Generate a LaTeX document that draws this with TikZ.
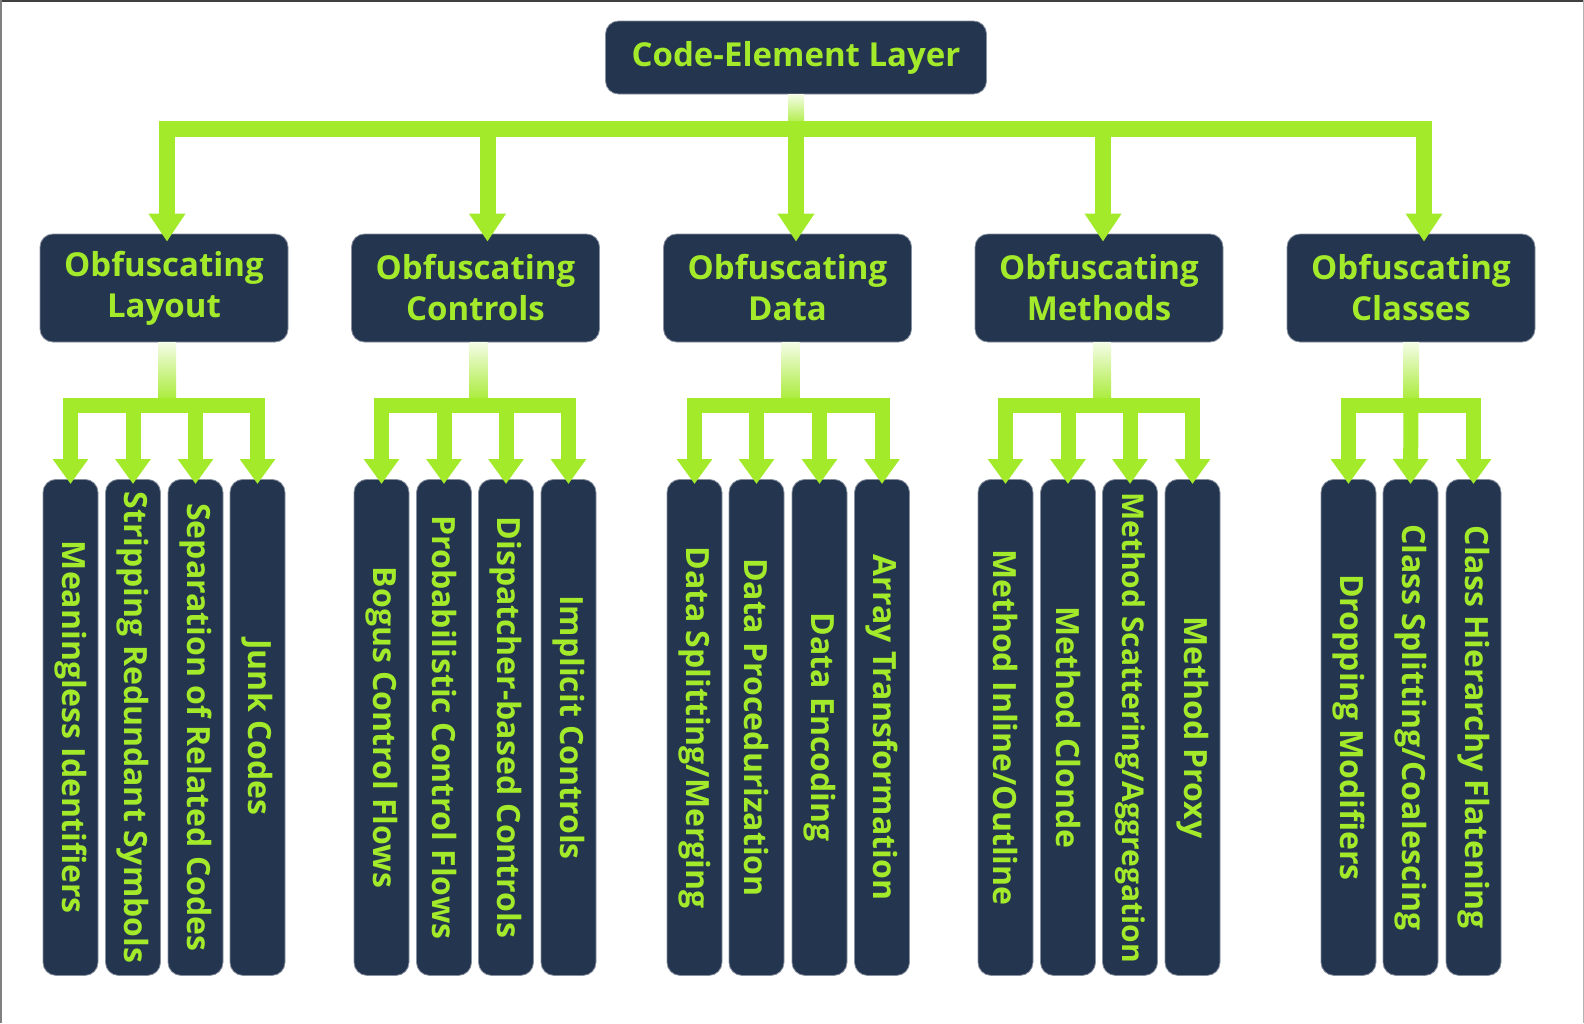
\documentclass[tikz,border=0pt]{standalone}
\usepackage{fontspec}
\setmainfont{Open Sans}
\usetikzlibrary{arrows.meta}
\definecolor{navy}{HTML}{24354F}
\definecolor{lime}{HTML}{A3EA2A}
\tikzset{
  box/.style={draw=navy!55!white, line width=0.8pt, fill=navy, text=lime,
    rounded corners=13pt, inner sep=0pt, align=center,
    font=\bfseries\fontsize{33}{41}\selectfont},
  layer/.style={box, minimum width=381pt, minimum height=73pt},
  group/.style={box, minimum width=248pt, minimum height=108pt},
  leaf/.style={box, minimum width=55pt, minimum height=496pt, anchor=north,
    font=\bfseries\fontsize{32}{38}\selectfont},
  branch/.style={lime, line width=16pt, -{Triangle[width=35pt,length=28pt]}},
  twig/.style={lime, line width=15pt, -{Triangle[width=34pt,length=25pt]}},
  fade/.style={top color=lime!12, bottom color=lime}
}
\begin{document}
\begin{tikzpicture}[x=1pt, y=-1pt]
  \useasboundingbox (0,0) rectangle (1584,1023);
  \draw[black!75, line width=1.5pt] (0,0.75) -- (1584,0.75);
  \draw[gray, line width=1.5pt] (0.75,0) -- (0.75,1023);
  \draw[gray!60, line width=1pt] (1583,0) -- (1583,1023);

  \node[layer] (cel) at (796,57.5) {Code-Element Layer};

  \node[group] (lay) at (164,288) {Obfuscating\\Layout};
  \node[group] (ctl) at (475.5,288) {Obfuscating\\Controls};
  \node[group] (dat) at (787.5,288) {Obfuscating\\Data};
  \node[group] (mth) at (1099,288) {Obfuscating\\Methods};
  \node[group] (cls) at (1411,288) {Obfuscating\\Classes};

  % leaves
  \node[leaf] (lay1) at (70.5,479) {\rotatebox{-90}{Meaningless Identifiers}};
  \node[leaf] (lay2) at (133,479) {\rotatebox{-90}{Stripping Redundant Symbols}};
  \node[leaf] (lay3) at (195.5,479) {\rotatebox{-90}{Separation of Related Codes}};
  \node[leaf] (lay4) at (257.5,479) {\rotatebox{-90}{Junk Codes}};

  \node[leaf] (ctl1) at (381.5,479) {\rotatebox{-90}{Bogus Control Flows}};
  \node[leaf] (ctl2) at (444,479) {\rotatebox{-90}{Probabilistic Control Flows}};
  \node[leaf] (ctl3) at (506,479) {\rotatebox{-90}{Dispatcher-based Controls}};
  \node[leaf] (ctl4) at (568.5,479) {\rotatebox{-90}{Implicit Controls}};

  \node[leaf] (dat1) at (694.5,479) {\rotatebox{-90}{Data Splitting/Merging}};
  \node[leaf] (dat2) at (756.5,479) {\rotatebox{-90}{Data Procedurization}};
  \node[leaf] (dat3) at (819.5,479) {\rotatebox{-90}{Data Encoding}};
  \node[leaf] (dat4) at (882,479) {\rotatebox{-90}{Array Transformation}};

  \node[leaf] (mth1) at (1005.5,479) {\rotatebox{-90}{Method Inline/Outline}};
  \node[leaf] (mth2) at (1068,479) {\rotatebox{-90}{Method Clonde}};
  \node[leaf, font=\bfseries\fontsize{30}{36}\selectfont] (mth3) at (1130,479)
    {\rotatebox{-90}{Method Scattering/Aggregation}};
  \node[leaf] (mth4) at (1192.5,479) {\rotatebox{-90}{Method Proxy}};

  \node[leaf] (cls1) at (1348.5,479) {\rotatebox{-90}{Dropping Modifiers}};
  \node[leaf] (cls2) at (1410.5,479) {\rotatebox{-90}{Class Splitting/Coalescing}};
  \node[leaf] (cls3) at (1473.5,479) {\rotatebox{-90}{Class Hierarchy Flatening}};

  % top level
  \coordinate (jtop) at (cel.south |- 0,129);
  \shade[fade] ([xshift=-8pt]cel.south) rectangle ([xshift=8pt]jtop);
  \draw[branch] (jtop) -| ([xshift=3pt,yshift=-8pt]lay.north);
  \draw[branch] (jtop) -| ([xshift=13pt,yshift=-8pt]cls.north);
  \draw[branch] ([xshift=12pt]ctl.north |- jtop) -- ([xshift=12pt,yshift=-8pt]ctl.north);
  \draw[branch] (jtop) -- ([yshift=-8pt]cel.south |- dat.north);
  \draw[branch] ([xshift=4pt]mth.north |- jtop) -- ([xshift=4pt,yshift=-8pt]mth.north);

  % second level
  \foreach \g/\n in {lay/4, ctl/4, dat/4, mth/4} {
    \coordinate (j\g) at ([xshift=2pt]\g.south |- 0,405);
    \shade[fade] ([xshift=-6pt]\g.south) rectangle ([xshift=10pt]j\g);
    \draw[twig] (j\g) -| ([yshift=-5pt]\g1.north);
    \draw[twig] (j\g) -| ([yshift=-5pt]\g\n.north);
    \draw[twig] (\g2.north |- j\g) -- ([yshift=-5pt]\g2.north);
    \draw[twig] (\g3.north |- j\g) -- ([yshift=-5pt]\g3.north);
  }
  \coordinate (jcls) at (cls.south |- 0,405);
  \shade[fade] ([xshift=-8pt]cls.south) rectangle ([xshift=8pt]jcls);
  \draw[twig] (jcls) -| ([yshift=-5pt]cls1.north);
  \draw[twig] (jcls) -| ([yshift=-5pt]cls3.north);
  \draw[twig] (jcls) -- ([yshift=-5pt]cls2.north);
\end{tikzpicture}
\end{document}
